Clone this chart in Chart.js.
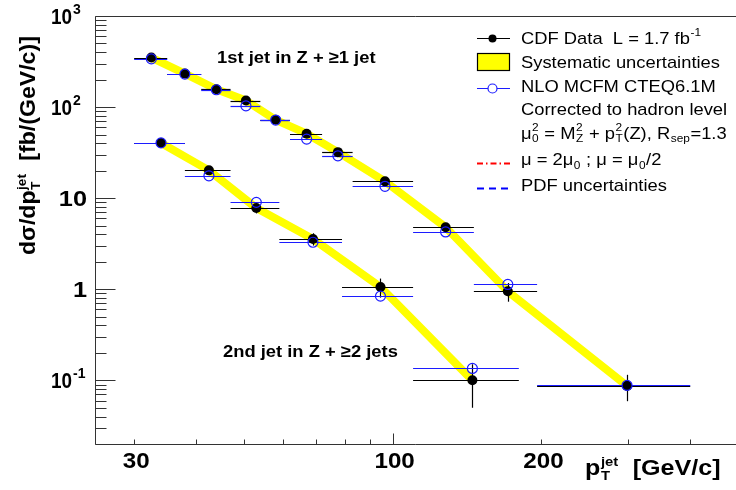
<!DOCTYPE html>
<html>
<head>
<meta charset="utf-8">
<script src="https://cdn.jsdelivr.net/npm/chart.js@4/dist/chart.umd.min.js"></script>
<style>
  html, body { margin: 0; padding: 0; background: #fff; }
  #wrap { position: relative; width: 736px; height: 490px; }
</style>
</head>
<body>
<div id="wrap"><canvas id="c" width="736" height="490"></canvas></div>
<script>
// Leading jet in Z + >=1 jet events: bin edges, bin centres, measured and NLO cross sections
const jet1Low  = [30, 35, 41, 47, 54, 62, 72, 83, 110, 146, 196];
const jet1High = [35, 41, 47, 54, 62, 72, 83, 110, 146, 196, 400];
const jet1Pt   = [32.5, 38, 44, 50.5, 58, 67, 77.5, 96.5, 128, 171, 298];
const jet1Data = [350, 233, 157, 118, 72.5, 51, 32, 15.3, 4.8, 0.95, 0.087];
const jet1Stat = [8, 6, 4, 3, 2.5, 2.5, 2.2, 1.2, 0.55, 0.22, 0.028];
const jet1Nlo  = [338, 230, 155, 103, 72, 44.5, 29.2, 13.5, 4.26, 1.13, 0.088];

// Second jet in Z + >=2 jets events
const jet2Low  = [30, 38, 47, 59, 79, 110];
const jet2High = [38, 47, 59, 79, 110, 180];
const jet2Pt   = [34, 42.5, 53, 69, 94.5, 145];
const jet2Data = [40.3, 20.2, 7.8, 3.57, 1.06, 0.100];
const jet2Stat = [1.5, 1.8, 1.0, 0.55, 0.25, 0.05];
const jet2Nlo  = [40.5, 17.6, 9.0, 3.28, 0.84, 0.135];

// Axis labels
const xTickValues = [30, 100, 200];
const yTickValues = [1000, 100, 10, 1, 0.1];
const yTickText   = [['10', '3'], ['10', '2'], ['10', ''], ['1', ''], ['10', '-1']];

const BLACK = '#000000';
const BLUE = '#1c1cff';
const YELLOW = '#ffff00';
const SANS = '"Liberation Sans", Arial, Helvetica, sans-serif';

const pts = (xs, ys) => xs.map((x, i) => ({ x: x, y: ys[i] }));

// Rich text: parts are strings or {sup, sub} stacks, drawn left to right
function drawRich(ctx, x, y, parts, o) {
  const size = o.size, w = o.bold ? 'bold ' : '';
  const small = Math.round(size * (o.scriptScale || 0.62));
  ctx.save();
  ctx.translate(x, y);
  if (o.rotate) ctx.rotate(o.rotate);
  ctx.scale(o.sx || 1, 1);
  ctx.fillStyle = o.color || BLACK;
  ctx.textBaseline = 'alphabetic';
  ctx.textAlign = 'left';
  let total = 0;
  const widths = parts.map(p => {
    let wd;
    if (typeof p === 'string') { ctx.font = w + size + 'px ' + SANS; wd = ctx.measureText(p).width; }
    else {
      ctx.font = w + small + 'px ' + SANS;
      wd = Math.max(p.sup ? ctx.measureText(p.sup).width : 0, p.sub ? ctx.measureText(p.sub).width : 0) + 1;
    }
    total += wd; return wd;
  });
  let cx = o.align === 'center' ? -total / 2 : (o.align === 'right' ? -total : 0);
  parts.forEach((p, i) => {
    if (typeof p === 'string') {
      ctx.font = w + size + 'px ' + SANS;
      ctx.fillText(p, cx, 0);
    } else {
      ctx.font = w + small + 'px ' + SANS;
      if (p.sup) ctx.fillText(p.sup, cx + 0.5, -size * (o.supRaise || 0.42));
      if (p.sub) ctx.fillText(p.sub, cx + 0.5, size * 0.22);
    }
    cx += widths[i];
  });
  ctx.restore();
}

// Horizontal bin-width bars, vertical statistical bars (drawn over the band, under the markers)
const errorBars = {
  id: 'errorBars',
  beforeDatasetsDraw(chart) { chart.$barsDone = false; },
  beforeDatasetDraw(chart, args) {
    const ds = chart.data.datasets[args.index];
    if (ds.kind !== 'data' || chart.$barsDone) return;
    chart.$barsDone = true;
    const { ctx, chartArea: a, scales: { x, y } } = chart;
    ctx.save();
    ctx.beginPath();
    ctx.rect(a.left, a.top, a.right - a.left, a.bottom - a.top);
    ctx.clip();
    ctx.lineWidth = 1.2;
    const hbar = (lo, hi, v, col) => {
      const py = Math.round(y.getPixelForValue(v)) + 0.5;
      ctx.strokeStyle = col;
      ctx.beginPath();
      ctx.moveTo(x.getPixelForValue(lo), py);
      ctx.lineTo(x.getPixelForValue(hi), py);
      ctx.stroke();
    };
    const vbar = (xc, v, e) => {
      const px = Math.round(x.getPixelForValue(xc)) + 0.5;
      ctx.strokeStyle = BLACK;
      ctx.beginPath();
      ctx.moveTo(px, y.getPixelForValue(v + e));
      ctx.lineTo(px, y.getPixelForValue(Math.max(v - e, 1e-4)));
      ctx.stroke();
    };
    const series = [
      [jet1Low, jet1High, jet1Pt, jet1Data, jet1Stat, jet1Nlo],
      [jet2Low, jet2High, jet2Pt, jet2Data, jet2Stat, jet2Nlo]
    ];
    series.forEach(([lo, hi, pt, d, s, n]) => {
      pt.forEach((xc, i) => { hbar(lo[i], hi[i], d[i], BLACK); vbar(xc, d[i], s[i]); });
    });
    series.forEach(([lo, hi, pt, d, s, n]) => {
      pt.forEach((xc, i) => hbar(lo[i], hi[i], n[i], BLUE));
    });
    ctx.restore();
  }
};

// Frame, ticks, axis labels, titles, legend and annotations
const decorations = {
  id: 'decorations',
  afterDraw(chart) {
    const { ctx, chartArea: a, scales: { x, y } } = chart;
    ctx.save();
    ctx.strokeStyle = '#333333';
    ctx.lineWidth = 1;
    const L = a.left + 0.5, B = Math.round(a.bottom) + 0.5, T = a.top + 0.5;
    ctx.beginPath();
    ctx.moveTo(a.right, T); ctx.lineTo(L, T); ctx.lineTo(L, B); ctx.lineTo(a.right, B);
    ctx.stroke();

    // y ticks (log)
    ctx.beginPath();
    for (let d = -2; d <= 3; d++) {
      for (let m = 1; m <= 9; m++) {
        const v = m * Math.pow(10, d);
        if (v < y.min - 1e-9 || v > y.max + 1e-9) continue;
        const py = Math.round(y.getPixelForValue(v)) + 0.5;
        const len = m === 1 ? 20 : 11;
        ctx.moveTo(L, py); ctx.lineTo(L + len, py);
      }
    }
    // x ticks (log)
    for (let d = 1; d <= 2; d++) {
      for (let m = 1; m <= 9; m++) {
        const v = m * Math.pow(10, d);
        if (v < x.min || v > x.max) continue;
        const px = Math.round(x.getPixelForValue(v)) + 0.5;
        const len = m === 1 ? 11 : 5;
        ctx.moveTo(px, B); ctx.lineTo(px, B - len);
      }
    }
    ctx.stroke();

    // y tick labels
    yTickValues.forEach((v, i) => {
      const py = y.getPixelForValue(v) + 8;
      const [base, exp] = yTickText[i];
      if (exp) {
        drawRich(ctx, 72, py, [base], { size: 22, bold: true, sx: 0.86, align: 'right' });
        drawRich(ctx, 73, py - 10, [exp], { size: 14, bold: true, sx: 1.0 });
      } else {
        drawRich(ctx, 87, py, [base], { size: 22, bold: true, sx: 1.15, align: 'right' });
      }
    });
    // x tick labels
    xTickValues.forEach(v => {
      drawRich(ctx, x.getPixelForValue(v) + 2, 468, [String(v)], { size: 22, bold: true, sx: 1.1, align: 'center' });
    });

    // axis titles
    drawRich(ctx, 35, 255, ['d\u03c3/dp', { sup: 'jet', sub: 'T' }, '  [fb/(GeV/c)]'],
      { size: 22, bold: true, sx: 1.05, rotate: -Math.PI / 2, scriptScale: 0.6 });
    drawRich(ctx, 585, 475, ['p', { sup: 'jet', sub: 'T' }, '  [GeV/c]'],
      { size: 22, bold: true, sx: 1.14, scriptScale: 0.6 });

    // annotations
    drawRich(ctx, 217, 62.5, ['1st jet in Z + \u22651 jet'], { size: 17, bold: true, sx: 1.08 });
    drawRich(ctx, 223, 356.5, ['2nd jet in Z + \u22652 jets'], { size: 17, bold: true, sx: 1.08 });

    // legend symbols
    const lx0 = 477, lx1 = 510, lxc = 492.5;
    ctx.lineWidth = 1.2;
    ctx.strokeStyle = BLACK;
    ctx.beginPath(); ctx.moveTo(lx0, 38.5); ctx.lineTo(lx1, 38.5); ctx.stroke();
    ctx.fillStyle = BLACK;
    ctx.beginPath(); ctx.arc(lxc, 38.5, 4, 0, Math.PI * 2); ctx.fill();

    ctx.fillStyle = YELLOW;
    ctx.fillRect(lx0, 53, lx1 - lx0, 18);
    ctx.lineWidth = 1.2;
    ctx.strokeStyle = BLACK;
    ctx.strokeRect(lx0 + 0.5, 53.5, lx1 - lx0 - 1, 17);

    ctx.strokeStyle = BLUE;
    ctx.beginPath(); ctx.moveTo(lx0, 88.5); ctx.lineTo(lx1, 88.5); ctx.stroke();
    ctx.fillStyle = '#ffffff';
    ctx.beginPath(); ctx.arc(lxc, 88.5, 4.5, 0, Math.PI * 2); ctx.fill(); ctx.stroke();

    ctx.lineWidth = 2;
    ctx.strokeStyle = '#ff0000';
    ctx.setLineDash([6, 3, 1.5, 3]);
    ctx.beginPath(); ctx.moveTo(lx0, 163.5); ctx.lineTo(lx1, 163.5); ctx.stroke();
    ctx.strokeStyle = '#0000ff';
    ctx.setLineDash([7, 5]);
    ctx.beginPath(); ctx.moveTo(lx0, 188.5); ctx.lineTo(lx1, 188.5); ctx.stroke();
    ctx.setLineDash([]);

    // legend text
    const lt = { size: 17, sx: 1.08, scriptScale: 0.65 };
    const tx = 521;
    drawRich(ctx, tx, 43.5, ['CDF Data  L = 1.7 fb', { sup: '-1' }], lt);
    drawRich(ctx, tx, 67.5, ['Systematic uncertainties'], lt);
    drawRich(ctx, tx, 92, ['NLO MCFM CTEQ6.1M'], lt);
    drawRich(ctx, tx, 115, ['Corrected to hadron level'], lt);
    drawRich(ctx, tx, 138.5, ['\u03bc', { sup: '2', sub: '0' }, ' = M', { sup: '2', sub: 'Z' }, ' + p',
      { sup: '2', sub: 'T' }, '(Z), R', { sub: 'sep' }, '=1.3'], lt);
    drawRich(ctx, tx, 165, ['\u03bc = 2\u03bc', { sub: '0' }, ' ; \u03bc = \u03bc', { sub: '0' }, '/2'], lt);
    drawRich(ctx, tx, 191, ['PDF uncertainties'], lt);
    ctx.restore();
  }
};

new Chart(document.getElementById('c'), {
  type: 'line',
  data: {
    datasets: [
      { label: 'NLO MCFM CTEQ6.1M', kind: 'nlo', data: pts(jet1Pt, jet1Nlo), showLine: false,
        pointRadius: 5, pointBorderWidth: 1.2, pointBorderColor: BLUE, pointBackgroundColor: 'rgba(255,255,255,0)', order: 0 },
      { label: 'NLO MCFM CTEQ6.1M (2nd jet)', kind: 'nlo', data: pts(jet2Pt, jet2Nlo), showLine: false,
        pointRadius: 5, pointBorderWidth: 1.2, pointBorderColor: BLUE, pointBackgroundColor: 'rgba(255,255,255,0)', order: 0 },
      { label: 'CDF Data', kind: 'data', data: pts(jet1Pt, jet1Data), showLine: false,
        pointRadius: 5, pointBorderWidth: 0, pointBackgroundColor: BLACK, pointBorderColor: BLACK, order: 1 },
      { label: 'CDF Data (2nd jet)', kind: 'data', data: pts(jet2Pt, jet2Data), showLine: false,
        pointRadius: 5, pointBorderWidth: 0, pointBackgroundColor: BLACK, pointBorderColor: BLACK, order: 1 },
      { label: 'Systematic uncertainties', kind: 'band', data: pts(jet1Pt, jet1Data),
        borderColor: YELLOW, borderWidth: 8, pointRadius: 0, fill: false, order: 5,
        borderJoinStyle: 'round', borderCapStyle: 'butt' },
      { label: 'Systematic uncertainties (2nd jet)', kind: 'band', data: pts(jet2Pt, jet2Data),
        borderColor: YELLOW, borderWidth: 8, pointRadius: 0, fill: false, order: 5,
        borderJoinStyle: 'round', borderCapStyle: 'butt' }
    ]
  },
  options: {
    responsive: false,
    animation: false,
    devicePixelRatio: 1,
    layout: { autoPadding: false, padding: { left: 95, top: 16, right: 0, bottom: 46 } },
    scales: {
      x: { type: 'logarithmic', min: 25, max: 495, display: false },
      y: { type: 'logarithmic', min: 0.02, max: 1000, display: false }
    },
    plugins: { legend: { display: false }, tooltip: { enabled: false } },
    elements: { line: { tension: 0 } }
  },
  plugins: [errorBars, decorations]
});
</script>
</body>
</html>
